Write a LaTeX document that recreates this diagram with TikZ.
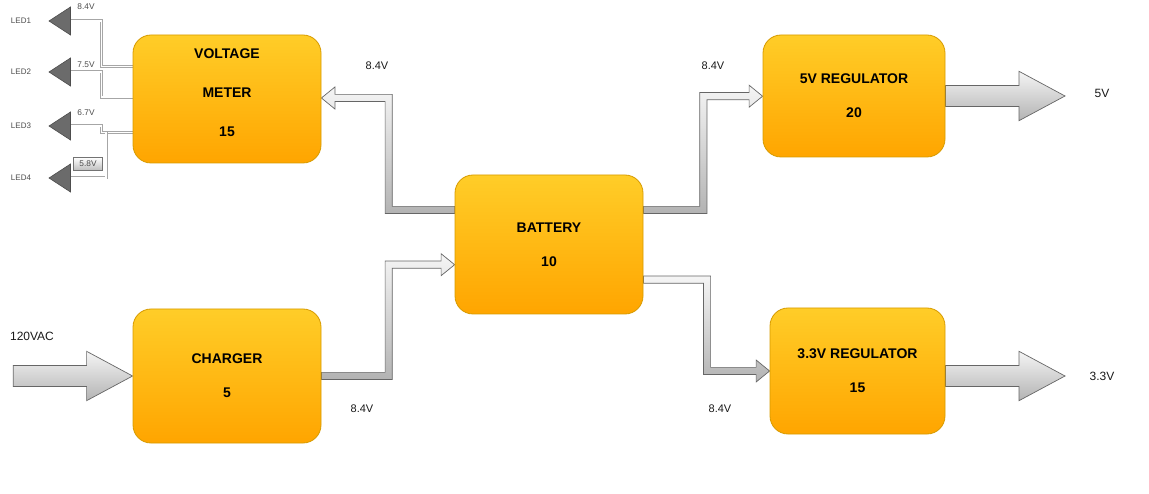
\documentclass[tikz,border=0pt]{standalone}
\usepackage{fontspec}
\setmainfont{Liberation Sans}
\usetikzlibrary{calc}
\definecolor{myboxtop}{HTML}{FFCD28}
\definecolor{myboxbot}{HTML}{FFA500}
\definecolor{myboxline}{HTML}{D79B00}
\definecolor{myarrowtop}{HTML}{F5F5F5}
\definecolor{myarrowbot}{HTML}{B3B3B3}
\definecolor{myarrowline}{HTML}{666666}
\definecolor{myled}{HTML}{6B6B6B}
\definecolor{myledline}{HTML}{4D4D4D}
\definecolor{mywire}{HTML}{A6A6A6}
\pgfdeclarelayer{background}
\pgfsetlayers{background,main}

% flat arrow with two bends: start, tip, bend x, d (1 east/-1 west), v (1 up/-1 down)
\newcommand{\bentarrow}[5]{%
  \shadedraw[flatarrow] let \p1=(#1), \p2=(#2) in
    (\x1,{\y1+(#4)*3.6pt}) -- ({#3pt-(#5)*3.6pt},{\y1+(#4)*3.6pt})
    -- ({#3pt-(#5)*3.6pt},{\y2+(#4)*3.6pt}) -- ({\x2-(#4)*13.5pt},{\y2+(#4)*3.6pt})
    -- ({\x2-(#4)*13.5pt},{\y2+(#4)*11pt}) -- (\p2)
    -- ({\x2-(#4)*13.5pt},{\y2-(#4)*11pt}) -- ({\x2-(#4)*13.5pt},{\y2-(#4)*3.6pt})
    -- ({#3pt+(#5)*3.6pt},{\y2-(#4)*3.6pt}) -- ({#3pt+(#5)*3.6pt},{\y1-(#4)*3.6pt})
    -- (\x1,{\y1-(#4)*3.6pt}) -- cycle;}
% big straight arrow pointing east: start, tip
\newcommand{\bigarrow}[2]{%
  \shadedraw[flatarrow] let \p1=(#1), \p2=(#2) in
    (\x1,{\y1+10.5pt}) -- ({\x2-46pt},{\y1+10.5pt}) -- ({\x2-46pt},{\y1+24.7pt})
    -- (\x2,\y1) -- ({\x2-46pt},{\y1-24.7pt}) -- ({\x2-46pt},{\y1-10.5pt})
    -- (\x1,{\y1-10.5pt}) -- cycle;}

\begin{document}
\begin{tikzpicture}[x=1pt,y=-1pt,
  box/.style={draw=myboxline,line width=0.8pt,rounded corners=18pt,
    top color=myboxtop,bottom color=myboxbot,align=center,
    font=\fontsize{14}{17}\selectfont\bfseries},
  flatarrow/.style={draw=myarrowline,line width=0.7pt,
    top color=myarrowtop,bottom color=myarrowbot},
  wire/.style={draw=mywire,line width=0.7pt,double=white,double distance=1.6pt},
  ledtri/.style={fill=myled,draw=myledline,line width=0.6pt},
  ledtext/.style={font=\fontsize{8}{9}\selectfont,text=black!70},
  tinytext/.style={font=\fontsize{8.3}{9}\selectfont,text=black!70},
  tinybox/.style={tinytext,draw=black!55,line width=0.5pt,top color=white,
    bottom color=black!25,minimum width=29pt,minimum height=12.5pt,inner sep=0pt},
  volttext/.style={font=\fontsize{11}{13}\selectfont,text=black!90},
  iotext/.style={font=\fontsize{12}{14}\selectfont,text=black!90}]
  \useasboundingbox (0,0) rectangle (1149,494);

  % blocks
  \node[box,minimum width=188pt,minimum height=128pt,text depth=12pt] (vm) at (227,99)
    {VOLTAGE\\[22pt]METER\\[22pt]15};
  \node[box,minimum width=188pt,minimum height=139pt] (bat) at (549,244.5) {BATTERY\\[17pt]10};
  \node[box,minimum width=188pt,minimum height=134pt] (chg) at (227,376) {CHARGER\\[17pt]5};
  \node[box,minimum width=182pt,minimum height=122pt] (reg5) at (854,96) {5V REGULATOR\\[17pt]20};
  \node[box,minimum width=175pt,minimum height=126pt] (reg33) at (857.5,371) {3.3V REGULATOR\\[17pt]15};

  % leds
  \foreach \i/\y in {1/21,2/72,3/126,4/178} {
    \coordinate (led\i) at (70.5,\y);
    \filldraw[ledtri] (led\i) ++(0,-14) -- ++(-21.5,14) -- ++(21.5,14) -- cycle;
    \node[ledtext] (ledname\i) at (21,\y) {LED\i};}
  \node[tinytext] (ledv1) at (86,7) {8.4V};
  \node[tinytext] (ledv2) at (86,65) {7.5V};
  \node[tinytext] (ledv3) at (86,113) {6.7V};
  \node[tinybox] (ledv4) at (88,163.7) {5.8V};

  \coordinate (acin) at (13.3,376);
  \coordinate (out5) at (1065,96);
  \coordinate (out33) at (1065,376);

  \begin{pgfonlayer}{background}
    \draw[wire] (led1) -| (101.3,66.7) -- (vm.west |- 0,66.7);
    \draw[wire] (led2) -| (101.3,97.2) -- (vm.west |- 0,97.2);
    \draw[wire] (led3) -| (101.3,132.5) -- (vm.west |- 0,132.5);
    \draw[wire] (led4) -| (106,132.5);
    \bentarrow{bat.west |- 0,210}{vm.east |- 0,98}{388.7}{-1}{1}
    \bentarrow{bat.east |- 0,210}{reg5.west |- 0,96.2}{703.3}{1}{1}
    \bentarrow{bat.east |- 0,279.7}{reg33.west}{707}{1}{-1}
    \bentarrow{chg.east}{bat.west |- 0,264.7}{388.7}{1}{1}
    \bigarrow{acin}{chg.west}
    \bigarrow{reg5.east}{out5}
    \bigarrow{reg33.east |- out33}{out33}
  \end{pgfonlayer}

  % labels
  \node[volttext] (lblvm) at (377,66) {8.4V};
  \node[volttext] (lbl5) at (713,66) {8.4V};
  \node[volttext] (lblchg) at (362,409) {8.4V};
  \node[volttext] (lbl33) at (720,409) {8.4V};
  \node[iotext] (lblac) at (32,336) {120VAC};
  \node[iotext] (lblout5) at (1102,93) {5V};
  \node[iotext] (lblout33) at (1102,376) {3.3V};
\end{tikzpicture}
\end{document}
